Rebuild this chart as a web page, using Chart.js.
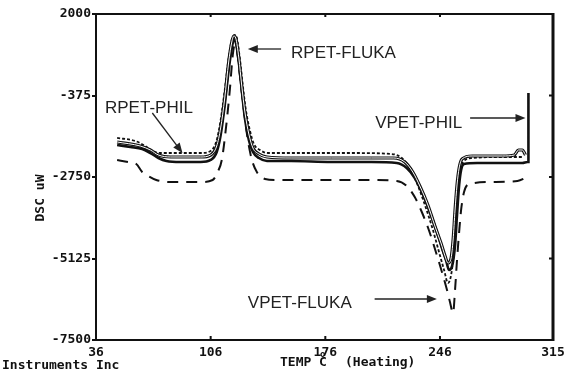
<!DOCTYPE html>
<html>
<head>
<meta charset="utf-8">
<script src="https://cdn.jsdelivr.net/npm/chart.js@4.4.0/dist/chart.umd.min.js"></script>
<style>
  html, body { margin: 0; padding: 0; background: #fff; }
  #wrap { width: 566px; height: 374px; position: relative; }
</style>
</head>
<body>
<div id="wrap"><canvas id="dsc"></canvas></div>
<script>
// DSC heating scans, temperature in deg C, heat flow in uW
const vpetPhilTemp = [48.9, 56.9, 64.2, 69.2, 74.1, 79.0, 87.6, 99.9, 106.0, 109.7, 112.1, 114.6, 117.0, 118.9, 120.1, 121.3, 123.2, 125.0, 126.9, 129.3, 131.8, 135.5, 140.4, 155.1, 179.7, 204.2, 219.6, 225.7, 230.6, 234.9, 239.8, 244.1, 247.2, 249.7, 251.5, 253.4, 255.2, 256.4, 257.7, 258.9, 260.7, 268.7, 284.1, 296.3, 299.4, 300.0, 300.0];
const vpetPhilDsc = [-1817, -1876, -1934, -2051, -2196, -2284, -2313, -2313, -2254, -2021, -1526, -652, 368, 1009, 1242, 1184, 601, -215, -1031, -1672, -2021, -2196, -2284, -2284, -2313, -2313, -2342, -2488, -2779, -3187, -3770, -4353, -4819, -5169, -5460, -5344, -4732, -3857, -2983, -2546, -2371, -2342, -2342, -2342, -2313, -2313, -302];

const rpetFlukaTemp = [48.9, 63.0, 69.2, 74.1, 81.4, 99.9, 106.0, 109.7, 112.1, 114.6, 117.0, 118.9, 120.1, 121.3, 123.2, 125.0, 126.9, 129.3, 131.8, 135.5, 140.4, 155.1, 179.7, 204.2, 217.8, 224.5, 229.4, 233.7, 238.6, 242.9, 246.6, 249.1, 250.9, 252.8, 254.0, 255.2, 256.4, 257.7, 259.5, 265.7, 284.1, 291.4, 293.9, 296.3, 298.2];
const rpetFlukaDsc = [-1730, -1847, -1963, -2109, -2167, -2167, -2109, -1847, -1322, -448, 601, 1184, 1359, 1301, 718, -98, -856, -1497, -1905, -2080, -2167, -2196, -2196, -2196, -2196, -2313, -2604, -3012, -3566, -4178, -4673, -5052, -5256, -5110, -4586, -3711, -2983, -2488, -2225, -2138, -2138, -2109, -1963, -1963, -2109];

const rpetPhilTemp = [48.9, 60.0, 66.1, 70.4, 75.3, 99.9, 106.0, 109.7, 112.1, 114.6, 117.0, 118.9, 120.7, 122.0, 123.8, 125.6, 127.5, 129.9, 132.4, 136.1, 141.0, 161.3, 192.0, 216.5, 222.7, 227.6, 231.9, 236.8, 241.7, 245.4, 248.5, 250.9, 252.8, 254.6, 255.8, 257.1, 258.3, 260.1, 265.7, 287.1, 296.3];
const rpetPhilDsc = [-1613, -1701, -1847, -1992, -2051, -2051, -1992, -1672, -1089, -215, 718, 1242, 1388, 1301, 718, -69, -798, -1380, -1788, -1963, -2051, -2051, -2051, -2080, -2196, -2488, -2925, -3566, -4294, -4936, -5460, -5839, -5606, -4877, -4003, -3129, -2604, -2313, -2196, -2167, -2167];

const vpetFlukaTemp = [48.9, 55.6, 60.6, 64.2, 67.9, 72.8, 81.4, 99.9, 107.2, 110.3, 112.8, 115.2, 117.7, 119.5, 120.7, 122.0, 123.8, 126.3, 128.7, 131.2, 134.2, 139.2, 145.9, 173.5, 204.2, 219.6, 225.7, 230.6, 234.9, 239.2, 243.5, 247.2, 250.3, 252.1, 254.0, 255.2, 256.4, 257.7, 258.9, 260.7, 263.8, 278.0, 293.3, 299.4];
const vpetFlukaDsc = [-2254, -2313, -2371, -2604, -2721, -2837, -2896, -2896, -2837, -2604, -2254, -1380, -215, 805, 1097, 951, 222, -798, -1672, -2254, -2604, -2808, -2837, -2837, -2837, -2866, -3012, -3333, -3770, -4294, -4936, -5518, -6043, -6393, -6713, -6043, -5169, -4353, -3711, -3187, -2954, -2896, -2866, -2750];

const xTicks = [36, 106, 176, 246, 315];
const yTicks = [2000, -375, -2750, -5125, -7500];

const pairs = (t, d) => t.map((v, i) => ({ x: v, y: d[i] }));

const INK = '#111';
const plotFont = 'bold 13px "DejaVu Sans Mono", monospace';

// labels with arrows, anchored in data units
const notes = [
    { text: 'RPET-FLUKA', at: [155.1, 718], from: [149.0, 980], to: [128.7, 980] },
    { text: 'RPET-PHIL', at: [41.5, -885], from: [70.4, -885], to: [88.8, -2051] },
    { text: 'VPET-PHIL', at: [259.5, -1322], align: 'right', from: [264.4, -1031], to: [298.2, -1031] },
    { text: 'VPET-FLUKA', at: [128.7, -6567], from: [206.1, -6305], to: [244.1, -6305] }
];

const framePlugin = {
    id: 'frame',
    afterDraw(chart) {
        const { ctx, chartArea: a, scales } = chart;
        const xs = scales.x, ys = scales.y;
        ctx.save();
        ctx.strokeStyle = INK;
        ctx.lineWidth = 2;
        ctx.beginPath();
        ctx.moveTo(a.left, a.top); ctx.lineTo(a.left, a.bottom); ctx.lineTo(a.right, a.bottom);
        ctx.moveTo(a.left, a.top); ctx.lineTo(a.right, a.top);
        ctx.stroke();
        ctx.lineWidth = 3;
        ctx.beginPath();
        ctx.moveTo(a.right, a.top - 1); ctx.lineTo(a.right, a.bottom + 1);
        ctx.stroke();

        // small inner ticks on right, top and bottom edges
        ctx.lineWidth = 2;
        ctx.beginPath();
        yTicks.forEach(v => {
            const p = ys.getPixelForValue(v);
            ctx.moveTo(a.right, p); ctx.lineTo(a.right - 4, p);
        });
        xTicks.forEach(v => {
            const p = xs.getPixelForValue(v);
            ctx.moveTo(p, a.top); ctx.lineTo(p, a.top + 3);
            ctx.moveTo(p, a.bottom); ctx.lineTo(p, a.bottom - 4);
        });
        ctx.stroke();

        // axis titles in plotter style
        ctx.fillStyle = INK;
        ctx.font = plotFont;
        ctx.textBaseline = 'alphabetic';
        ctx.textAlign = 'left';
        ctx.fillText('Instruments Inc', 2, 369);
        ctx.fillText('TEMP', 280, 366);
        ctx.fillText('C', 319, 366);
        ctx.font = 'bold 9px "DejaVu Sans Mono", monospace';
        ctx.fillText('o', 320, 357);
        ctx.font = plotFont;
        ctx.fillText('(Heating)', 345, 366);

        ctx.save();
        ctx.translate(44, 198);
        ctx.rotate(-Math.PI / 2);
        ctx.textAlign = 'center';
        ctx.fillText('DSC uW', 0, 0);
        ctx.restore();

        // annotations
        ctx.font = '17px "Liberation Sans", Arial, sans-serif';
        ctx.fillStyle = '#222';
        ctx.strokeStyle = '#222';
        ctx.lineWidth = 1.3;
        notes.forEach(n => {
            ctx.textAlign = n.align || 'left';
            ctx.fillText(n.text, xs.getPixelForValue(n.at[0]), ys.getPixelForValue(n.at[1]));
            const x0 = xs.getPixelForValue(n.from[0]), y0 = ys.getPixelForValue(n.from[1]);
            const x1 = xs.getPixelForValue(n.to[0]), y1 = ys.getPixelForValue(n.to[1]);
            const ang = Math.atan2(y1 - y0, x1 - x0);
            ctx.beginPath();
            ctx.moveTo(x0, y0);
            ctx.lineTo(x1 - 8 * Math.cos(ang), y1 - 8 * Math.sin(ang));
            ctx.stroke();
            ctx.beginPath();
            ctx.moveTo(x1, y1);
            ctx.lineTo(x1 - 10 * Math.cos(ang) + 4 * Math.sin(ang), y1 - 10 * Math.sin(ang) - 4 * Math.cos(ang));
            ctx.lineTo(x1 - 10 * Math.cos(ang) - 4 * Math.sin(ang), y1 - 10 * Math.sin(ang) + 4 * Math.cos(ang));
            ctx.closePath();
            ctx.fill();
        });
        ctx.restore();
    }
};

const line = (label, t, d, extra) => Object.assign({
    label: label,
    data: pairs(t, d),
    borderColor: INK,
    borderWidth: 2,
    pointRadius: 0,
    fill: false,
    cubicInterpolationMode: 'monotone'
}, extra);

new Chart(document.getElementById('dsc'), {
    type: 'line',
    data: {
        datasets: [
            line('RPET-FLUKA core', rpetFlukaTemp, rpetFlukaDsc, { borderColor: '#fff', borderWidth: 1, order: 0 }),
            line('RPET-FLUKA', rpetFlukaTemp, rpetFlukaDsc, { borderWidth: 3.2, order: 1 }),
            line('VPET-PHIL', vpetPhilTemp, vpetPhilDsc, { borderWidth: 2.6, order: 2 }),
            line('RPET-PHIL', rpetPhilTemp, rpetPhilDsc, { borderWidth: 1.8, borderDash: [3, 2], order: 3 }),
            line('VPET-FLUKA', vpetFlukaTemp, vpetFlukaDsc, { borderWidth: 2, borderDash: [11, 8], order: 4 })
        ]
    },
    options: {
        responsive: true,
        maintainAspectRatio: false,
        animation: false,
        layout: { padding: { left: 0, right: 13, top: 14, bottom: 0 } },
        plugins: { legend: { display: false }, tooltip: { enabled: false } },
        scales: {
            x: {
                type: 'linear',
                min: 36,
                max: 315,
                afterBuildTicks: s => { s.ticks = xTicks.map(v => ({ value: v })); },
                afterFit: s => { s.height = 34; },
                border: { display: false },
                // ticks go inward on this axis, drawn by the frame plugin
                grid: { drawOnChartArea: false, tickLength: 4, color: 'rgba(0,0,0,0)' },
                ticks: {
                    autoSkip: false,
                    maxRotation: 0,
                    padding: 1,
                    color: INK,
                    font: { family: '"DejaVu Sans Mono", monospace', size: 13, weight: 'bold' },
                    callback: v => String(v)
                }
            },
            y: {
                min: -7500,
                max: 2000,
                afterBuildTicks: s => { s.ticks = yTicks.map(v => ({ value: v })); },
                afterFit: s => { s.width = 96; },
                border: { display: false },
                grid: { drawOnChartArea: false, tickLength: 4, color: INK, lineWidth: 2 },
                ticks: {
                    padding: 1,
                    color: INK,
                    font: { family: '"DejaVu Sans Mono", monospace', size: 13, weight: 'bold' },
                    callback: v => String(v)
                }
            }
        }
    },
    plugins: [framePlugin]
});
</script>
</body>
</html>
